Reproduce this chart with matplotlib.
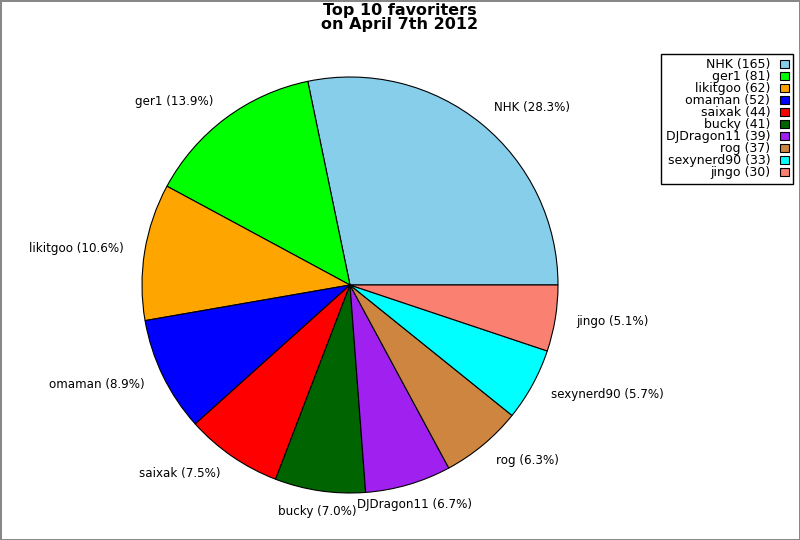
import matplotlib
matplotlib.use("Agg")
import matplotlib.pyplot as plt
import numpy as np

names = ["NHK", "ger1", "likitgoo", "omaman", "saixak", "bucky",
         "DJDragon11", "rog", "sexynerd90", "jingo"]
counts = [165, 81, 62, 52, 44, 41, 39, 37, 33, 30]
colors = ["#87CEEB", "#00FF00", "#FFA500", "#0000FF", "#FF0000", "#006400",
          "#A020F0", "#CD853F", "#00FFFF", "#FA8072"]
title = "Top 10 favoriters\non April 7th 2012"

W, H = 800, 540
fig = plt.figure(figsize=(W / 100, H / 100), dpi=100)
fig.patch.set_edgecolor("#888888")
fig.patch.set_linewidth(2)

# pie centre (350, 285), radius 208 px
cx, cy, r = 350, 285, 208
ax = fig.add_axes([(cx - r) / W, 1 - (cy + r) / H, 2 * r / W, 2 * r / H])

total = sum(counts)
pct_labels = [f"{n} ({c / total * 100:.1f}%)" for n, c in zip(names, counts)]

wedges, texts = ax.pie(
    counts,
    colors=colors,
    labels=pct_labels,
    startangle=0,
    counterclock=True,
    labeldistance=1.1,
    wedgeprops=dict(edgecolor="black", linewidth=0.8),
    textprops=dict(fontsize=8.6),
)
ax.set_xlim(-1, 1)
ax.set_ylim(-1, 1)

# labels near the bottom/top are centred, others hug the wedge side
for w, t in zip(wedges, texts):
    ang = np.deg2rad((w.theta1 + w.theta2) / 2)
    if abs(np.cos(ang)) < 0.4:
        t.set_ha("center")

fig.suptitle(title, x=0.5, y=0.995, fontsize=11.5, fontweight="bold",
             va="top", linespacing=0.92)

# legend rows are packed tight like the original (text right-aligned)
leg_labels = [f"{n} ({c})" for n, c in zip(names, counts)]
leg = fig.legend(
    wedges, leg_labels,
    loc="upper right",
    bbox_to_anchor=(793 / W, 1 - 54 / H),
    borderaxespad=0,
    markerfirst=False,
    fancybox=False,
    framealpha=1,
    edgecolor="black",
    fontsize=9.0,
    labelspacing=-0.08,
    handlelength=0.72,
    handleheight=0.72,
    handletextpad=0.75,
    borderpad=0.35,
)
leg.get_frame().set_linewidth(1)

fig.savefig("out.png", dpi=100)
